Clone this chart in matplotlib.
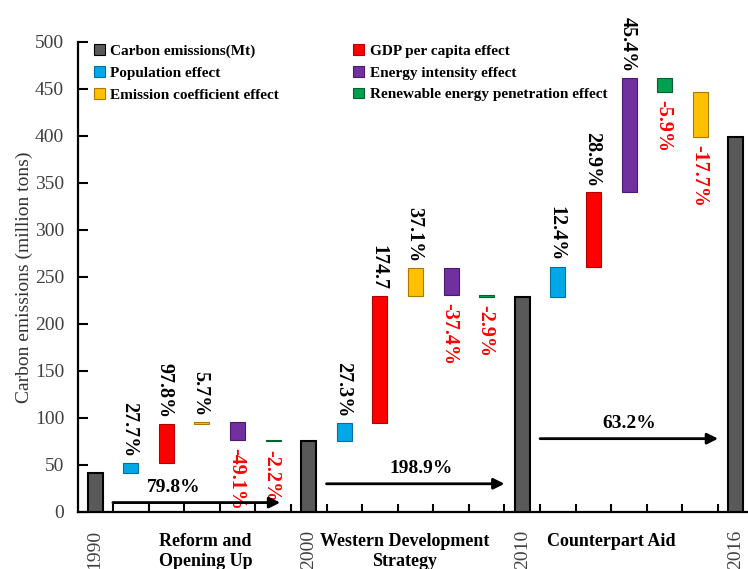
import matplotlib
matplotlib.use("Agg")
import matplotlib.pyplot as plt
from matplotlib.patches import Patch

plt.rcParams['font.family'] = ['Liberation Serif', 'DejaVu Serif']

# totals (Mt) at the start/end of each period
years = ['1990', '2000', '2010', '2016']
totals = [42, 75, 229, 399]

# effect contributions (Mt) per period, in the drawn order
group_effects = [
    ['pop', 'gdp', 'ec', 'ei', 're'],
    ['pop', 'gdp', 'ec', 'ei', 're'],
    ['pop', 'gdp', 'ei', 're', 'ec'],
]
group_values = [
    [10.5, 41, 2.5, -19.5, -1.5],
    [20, 135, 30, -29, -2],
    [32, 79, 122, -15, -48],
]
group_labels = [
    ['27.7%', '97.8%', '5.7%', '-49.1%', '-2.2%'],
    ['27.3%', '174.7', '37.1%', '-37.4%', '-2.9%'],
    ['12.4%', '28.9%', '45.4%', '-5.9%', '-17.7%'],
]
period_names = ['Reform and\nOpening Up', 'Western Development\nStrategy', 'Counterpart Aid']
period_growth = ['79.8%', '198.9%', '63.2%']
arrow_levels = [10, 30, 78]

colors = {
    'ce': ('#595959', '#000000'),
    'pop': ('#00A9E6', '#0070A0'),
    'gdp': ('#FF0000', '#B00000'),
    'ec': ('#FFC000', '#B07800'),
    'ei': ('#7030A0', '#4A1A70'),
    're': ('#00A050', '#006030'),
}
names = {
    'ce': 'Carbon emissions(Mt)',
    'pop': 'Population effect',
    'ec': 'Emission coefficient effect',
    'gdp': 'GDP per capita effect',
    'ei': 'Energy intensity effect',
    're': 'Renewable energy penetration effect',
}

fig = plt.figure(figsize=(7.48, 5.69), dpi=100)
ax = fig.add_axes([0.1043, 0.1002, 0.8957, 0.826])

w = 0.42
step = len(group_effects[0]) + 1
total_pos = [i * step for i in range(len(totals))]

for i, t in enumerate(totals):
    fc, ec = colors['ce']
    ax.bar(total_pos[i], t, width=w, color=fc, edgecolor=ec, linewidth=1.5, zorder=3)

growth_x = [2.2, 9.15, 15.0]
for g in range(len(group_effects)):
    running = totals[g]
    for j, (key, d) in enumerate(zip(group_effects[g], group_values[g])):
        x = total_pos[g] + j + 1
        bottom = min(running, running + d)
        fc, ec = colors[key]
        ax.bar(x, abs(d), bottom=bottom, width=w, color=fc, edgecolor=ec, linewidth=0.8, zorder=3)
        if d > 0:
            ax.annotate(group_labels[g][j], (x, bottom + abs(d)), xytext=(-1, 4),
                        textcoords='offset points', rotation=-90, ha='center', va='bottom',
                        fontsize=14.5, fontweight='bold', color='black')
        else:
            ax.annotate(group_labels[g][j], (x, bottom), xytext=(-1, -6),
                        textcoords='offset points', rotation=-90, ha='center', va='top',
                        fontsize=14.5, fontweight='bold', color='#FF0000')
        running += d

    # period arrow
    x0 = total_pos[g] + 0.5
    x1 = total_pos[g + 1] - 0.5
    if g == 0:
        x1 = total_pos[g + 1] - 0.8
    ax.annotate('', xy=(x1, arrow_levels[g]), xytext=(x0, arrow_levels[g]),
                arrowprops=dict(arrowstyle='-|>', color='black', lw=2, mutation_scale=16,
                                shrinkA=0, shrinkB=0), zorder=4)
    ax.text(growth_x[g], arrow_levels[g] + 7, period_growth[g], ha='center', va='bottom',
            fontsize=14, fontweight='bold')

# period names under the axis
name_pos = [3.1, 8.7, 14.5]
for xp, nm in zip(name_pos, period_names):
    ax.text(xp, -0.045, nm, transform=ax.get_xaxis_transform(), ha='center', va='top',
            fontsize=13, fontweight='bold', linespacing=1.25)

ax.set_xlim(-0.48, 18.34)
ax.set_ylim(0, 500)
ax.set_xticks(total_pos)
ax.set_xticklabels(years, rotation=90, fontsize=14, color='#404040')
ax.set_xticks([k + 0.5 for k in range(total_pos[-1])], minor=True)
ax.tick_params(axis='x', which='major', length=0, pad=13)
ax.tick_params(axis='x', which='minor', direction='in', length=6, width=1.5)
ax.set_yticks(range(0, 501, 50))
ax.tick_params(axis='y', direction='in', length=7, width=1.5, labelsize=14,
               labelcolor='#404040', pad=10)
for s in ['top', 'right']:
    ax.spines[s].set_visible(False)
for s in ['left', 'bottom']:
    ax.spines[s].set_linewidth(1.6)
ax.set_ylabel('Carbon emissions (million tons)', fontsize=14, color='#333333', labelpad=1)

order = ['ce', 'pop', 'ec', 'gdp', 'ei', 're']
handles = [Patch(facecolor=colors[k][0], edgecolor=colors[k][1], linewidth=0.8) for k in order]
ax.legend(handles, [names[k] for k in order], ncol=2, loc='upper left',
          bbox_to_anchor=(0.004, 1.024), frameon=False, prop=dict(size=11, weight='bold'),
          handlelength=0.7, handleheight=0.7, handletextpad=0.35, columnspacing=4.85,
          labelspacing=0.52)

fig.savefig('out.png', dpi=100)
